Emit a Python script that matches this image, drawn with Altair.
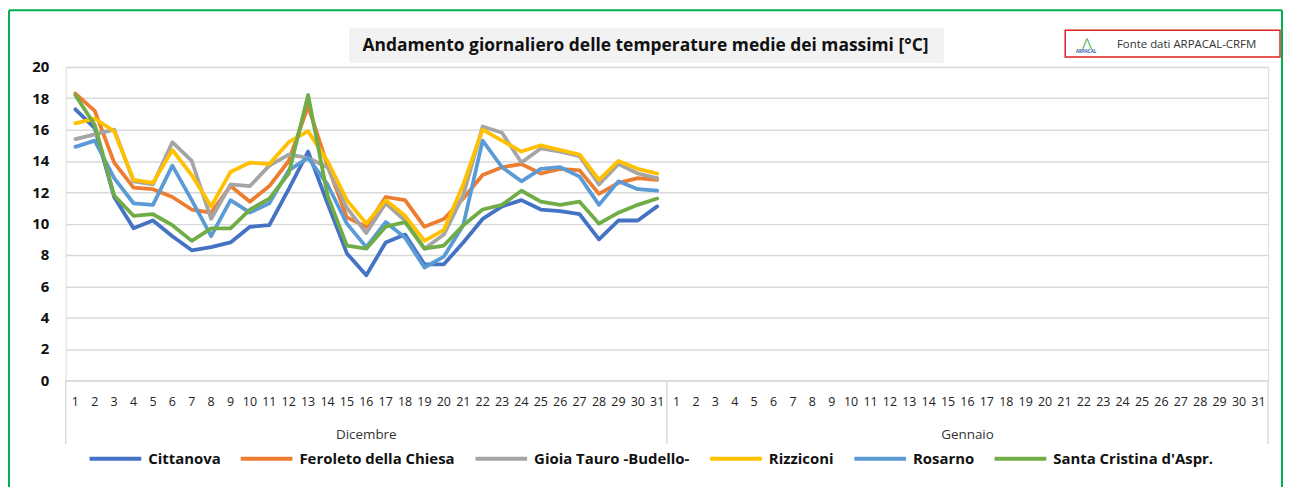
import altair as alt
import pandas as pd

days = list(range(1, 32))
months = ["Dicembre", "Gennaio"]
stations = ["Cittanova", "Feroleto della Chiesa", "Gioia Tauro -Budello-",
            "Rizziconi", "Rosarno", "Santa Cristina d'Aspr."]
colors = ["#4472C4", "#ED7D31", "#A5A5A5", "#FFC000", "#5B9BD5", "#70AD47"]

cittanova = [17.3, 16.1, 11.7, 9.7, 10.2, 9.2, 8.3, 8.5, 8.8, 9.8, 9.9, 12.2, 14.6, 11.3, 8.1, 6.7,
             8.8, 9.3, 7.4, 7.4, 8.8, 10.3, 11.1, 11.5, 10.9, 10.8, 10.6, 9.0, 10.2, 10.2, 11.1]
feroleto = [18.3, 17.2, 13.9, 12.3, 12.2, 11.7, 10.9, 10.7, 12.4, 11.4, 12.4, 14.0, 17.5, 13.7, 10.4, 9.8,
            11.7, 11.5, 9.8, 10.3, 11.6, 13.1, 13.6, 13.8, 13.2, 13.5, 13.4, 11.9, 12.6, 12.9, 12.8]
gioia = [15.4, 15.7, 16.0, 12.7, 12.5, 15.2, 14.0, 10.3, 12.5, 12.4, 13.7, 14.4, 14.2, 13.6, 11.0, 9.4,
         11.3, 10.2, 8.4, 9.3, 11.8, 16.2, 15.8, 13.9, 14.8, 14.6, 14.3, 12.5, 13.8, 13.2, 12.9]
rizziconi = [16.4, 16.7, 15.9, 12.8, 12.6, 14.7, 13.1, 11.1, 13.3, 13.9, 13.8, 15.2, 15.9, 14.0, 11.5, 10.0,
             11.5, 10.5, 8.9, 9.6, 12.5, 16.0, 15.3, 14.6, 15.0, 14.7, 14.4, 12.8, 14.0, 13.5, 13.2]
rosarno = [14.9, 15.3, 12.9, 11.3, 11.2, 13.7, 11.5, 9.2, 11.5, 10.7, 11.3, 13.4, 14.2, 12.5, 10.0, 8.5,
           10.1, 9.1, 7.2, 7.9, 9.9, 15.3, 13.6, 12.7, 13.5, 13.6, 13.0, 11.2, 12.7, 12.2, 12.1]
santa_cristina = [18.2, 16.3, 11.8, 10.5, 10.6, 9.9, 8.9, 9.7, 9.7, 10.9, 11.6, 13.2, 18.2, 11.8, 8.6, 8.4,
                  9.8, 10.1, 8.4, 8.6, 9.9, 10.9, 11.2, 12.1, 11.4, 11.2, 11.4, 10.0, 10.7, 11.2, 11.6]
series = [cittanova, feroleto, gioia, rizziconi, rosarno, santa_cristina]
y_ticks = list(range(0, 21, 2))

title_text = "Andamento giornaliero delle temperature medie dei massimi [°C]"
source_text = "Fonte dati ARPACAL-CRFM"

FONT = "Open Sans"
W, H = 1209, 315

cats = [f"D{d}" for d in days] + [f"G{d}" for d in days]
rows = []
for name, vals in zip(stations, series):
    for d, v in zip(days, vals):
        rows.append({"cat": f"D{d}", "station": name, "value": v})
df = pd.DataFrame(rows)

xscale = alt.Scale(type="band", domain=cats, paddingInner=0, paddingOuter=0)

one = pd.DataFrame({"a": [0]})
GREEN = "#00B050"

# outer chart frame (left, top, right edges)
frame_l = alt.Chart(one).mark_rule(color=GREEN, strokeWidth=2).encode(
    x=alt.value(-57), y=alt.value(-57), y2=alt.value(480))
frame_t = alt.Chart(one).mark_rule(color=GREEN, strokeWidth=2).encode(
    x=alt.value(-57), x2=alt.value(1223), y=alt.value(-57))
frame_r = alt.Chart(one).mark_rule(color=GREEN, strokeWidth=2).encode(
    x=alt.value(1223), y=alt.value(-57), y2=alt.value(480))

title_bg = alt.Chart(one).mark_rect(fill="#F2F2F2").encode(
    x=alt.value(285), x2=alt.value(883), y=alt.value(-39), y2=alt.value(-4))
title_txt = alt.Chart(one).mark_text(align="center", baseline="middle", font=FONT, fontSize=17.5,
                                     fontWeight="bold", color="#111111").encode(
    x=alt.value(583), y=alt.value(-21), text=alt.value(title_text))

src_box = alt.Chart(one).mark_rect(fill="white", stroke="#E0201F", strokeWidth=1.5).encode(
    x=alt.value(1005), x2=alt.value(1221), y=alt.value(-37), y2=alt.value(-10))
src_txt = alt.Chart(one).mark_text(align="left", baseline="middle", font=FONT, fontSize=11.5,
                                   color="#333333").encode(
    x=alt.value(1057), y=alt.value(-22), text=alt.value(source_text))
logo_txt = alt.Chart(one).mark_text(align="center", baseline="middle", font=FONT, fontSize=4.5,
                                    fontWeight="bold", color="#2E5FA8").encode(
    x=alt.value(1026), y=alt.value(-15), text=alt.value("ARPACAL"))
logo_mark = alt.Chart(one).mark_text(align="center", baseline="middle", font=FONT, fontSize=12,
                                     color="#4CAF50").encode(
    x=alt.value(1027), y=alt.value(-24), text=alt.value("⋀"))

lines = alt.Chart(df).mark_line(strokeWidth=3.8, strokeJoin="round", strokeCap="round").encode(
    x=alt.X("cat:O", scale=xscale, bandPosition=0.5,
            axis=alt.Axis(title=None, labelExpr="substring(datum.value, 1)", labelAngle=0,
                          labelOverlap=False, ticks=False, grid=False, domainColor="#D9D9D9",
                          domainWidth=1.5, labelFont=FONT, labelFontSize=12.5, labelColor="#222222",
                          labelPadding=15)),
    y=alt.Y("value:Q", scale=alt.Scale(domain=[0, 20], nice=False, zero=True),
            axis=alt.Axis(title=None, values=y_ticks, domain=False, ticks=False, labelFont=FONT,
                          labelFontSize=15, labelFontWeight="bold", labelColor="#111111",
                          labelPadding=17, gridColor="#D9D9D9", gridWidth=1.5)),
    color=alt.Color("station:N", scale=alt.Scale(domain=stations, range=colors),
                    legend=alt.Legend(title=None, orient="none", legendX=22, legendY=366,
                                      direction="horizontal", columns=6, symbolType="stroke",
                                      symbolStrokeWidth=4, symbolSize=2704, labelFont=FONT,
                                      labelFontSize=15, labelFontWeight="bold", labelColor="#111111",
                                      labelOffset=5, columnPadding=12, labelLimit=400)),
    order=alt.Order("cat_idx:Q")
).transform_calculate(cat_idx="toNumber(substring(datum.cat, 1))")

div_df = pd.DataFrame({"cat": ["D1", "G1"]})
div_end = pd.DataFrame({"cat": ["G31"]})
dividers_a = alt.Chart(div_df).mark_rule(color="#D9D9D9", strokeWidth=1.5).encode(
    x=alt.X("cat:O", scale=xscale, bandPosition=0), y=alt.value(H), y2=alt.value(H + 64))
dividers_b = alt.Chart(div_end).mark_rule(color="#D9D9D9", strokeWidth=1.5).encode(
    x=alt.X("cat:O", scale=xscale, bandPosition=1), y=alt.value(H), y2=alt.value(H + 64))

month_df = pd.DataFrame({"cat": ["D16", "G16"], "month": months})
month_txt = alt.Chart(month_df).mark_text(font=FONT, fontSize=13.5, color="#333333",
                                          baseline="middle").encode(
    x=alt.X("cat:O", scale=xscale, bandPosition=0.5), y=alt.value(H + 55), text="month:N")

chart = alt.layer(frame_l, frame_t, frame_r, title_bg, title_txt, src_box, src_txt, logo_txt,
                  logo_mark, lines, dividers_a, dividers_b, month_txt).properties(
    width=W, height=H,
    autosize=alt.AutoSizeParams(type="none"),
    padding={"left": 58, "top": 58, "right": 15, "bottom": 106},
).configure_view(stroke="#0070C0", strokeWidth=2.5).configure(background="white")

chart.save("out.html", embed_options={"renderer": "svg", "actions": False})
